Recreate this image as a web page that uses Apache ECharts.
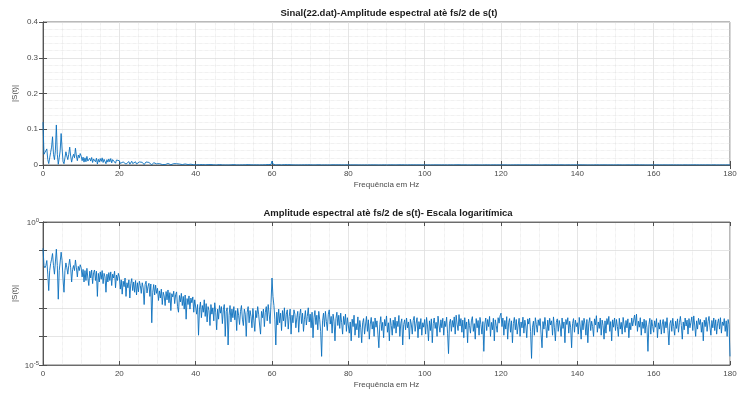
<!DOCTYPE html>
<html>
<head>
<meta charset="utf-8">
<script src="https://cdn.jsdelivr.net/npm/echarts@6/dist/echarts.min.js"></script>
<style>
  html, body { margin: 0; padding: 0; background: #fff; }
  #chart { width: 737px; height: 396px; }
</style>
</head>
<body>
<div id="chart"></div>
<script>
// Spektrum, gelesen aus dem Bild (Schritt 0.25 Hz)
const freqStep = 0.25;
const xTicks = [0, 20, 40, 60, 80, 100, 120, 140, 160, 180];
const linTicks = [0, 0.1, 0.2, 0.3, 0.4];
const logTicks = [1e-5, 1];

const amp0to20 = [
  0.12, 0.03, 0.025, 0.03, 0.045, 0.015, 0.004, 0.02, 0.035, 0.05,
  0.079, 0.03, 0.015, 0.04, 0.112, 0.03, 0.002, 0.02, 0.04, 0.088,
  0.045, 0.01, 0.0035, 0.02, 0.037, 0.025, 0.015, 0.03, 0.05, 0.025,
  0.008, 0.022, 0.03, 0.02, 0.047, 0.025, 0.012, 0.028, 0.02, 0.032,
  0.025, 0.012, 0.022, 0.008, 0.02, 0.009, 0.024, 0.011, 0.006, 0.019,
  0.011, 0.021, 0.007, 0.017, 0.021, 0.009, 0.019, 0.0025, 0.016, 0.008,
  0.018, 0.01, 0.02, 0.007, 0.016, 0.012, 0.0035, 0.015, 0.008, 0.017,
  0.009, 0.018, 0.006, 0.015, 0.011, 0.019, 0.005, 0.014, 0.009, 0.016
];
const amp20to40 = [
  0.012, 0.0045, 0.0095, 0.003, 0.0085, 0.0055, 0.011, 0.0025, 0.0075, 0.005,
  0.0095, 0.0022, 0.007, 0.0105, 0.004, 0.008, 0.0035, 0.009, 0.0028, 0.0075,
  0.0036, 0.0085, 0.006, 0.0032, 0.0075, 0.005, 0.0013, 0.0065, 0.0085, 0.0033,
  0.0055, 0.0072, 0.0025, 0.0068, 0.0003, 0.0035, 0.0065, 0.0028, 0.0062, 0.0032,
  0.0048, 0.0018, 0.0039, 0.0022, 0.0045, 0.0013, 0.0035, 0.0026, 0.0012, 0.0037,
  0.0019, 0.0042, 0.0015, 0.0034, 0.0008, 0.0031, 0.0024, 0.0038, 0.0014, 0.0029,
  0.0036, 0.0011, 0.0007, 0.0027, 0.0016, 0.0032, 0.0012, 0.0025, 0.0009, 0.0028,
  0.0004, 0.0021, 0.0013, 0.0026, 0.0009, 0.0022, 0.0015, 0.0024, 0.0007, 0.0019
];
const amp40to60 = [
  1.8e-3, 6e-4, 1.3e-3, 1.1e-4, 9e-4, 1.6e-3, 4.5e-4, 1.2e-3, 7e-4, 1.9e-3,
  5e-4, 1.4e-3, 3.2e-4, 1.1e-3, 8e-4, 2.4e-4, 1.3e-3, 6e-4, 1e-3, 3.5e-4,
  1.5e-3, 7e-4, 1.7e-4, 9e-4, 4e-4, 1.2e-3, 6.5e-4, 1.1e-3, 2.8e-4, 8.5e-4,
  1.3e-3, 1e-4, 7.5e-4, 1e-3, 5e-5, 5.5e-4, 1.2e-3, 3.2e-4, 9e-4, 4.5e-4,
  1.1e-3, 3.8e-4, 8e-4, 1.6e-4, 9.5e-4, 5.5e-4, 2.6e-4, 7.5e-4, 1.2e-3, 4e-4,
  2.4e-4, 9e-4, 6e-4, 1e-4, 7e-4, 1.1e-3, 3e-4, 8e-4, 5e-4, 2e-4,
  9.5e-4, 3.5e-4, 1.5e-4, 8e-4, 4.5e-4, 1.1e-3, 6e-4, 2.5e-4, 1.2e-4, 7.5e-4,
  4.5e-4, 9e-4, 2.2e-4, 7e-4, 1.1e-3, 3.5e-4, 1.3e-3, 6e-4, 2.8e-4, 1.5e-3
];
const amp60to80 = [
  1.1e-2, 2.5e-3, 1.2e-3, 4e-4, 5e-5, 7e-4, 2.5e-4, 9e-4, 3e-4, 6.5e-4,
  1.6e-4, 8e-4, 3.5e-4, 1e-3, 2.2e-4, 6e-4, 8.5e-4, 1.8e-4, 5e-4, 9e-4,
  1.2e-4, 5.5e-4, 3e-4, 8.5e-4, 6e-4, 2e-4, 4.5e-4, 7.5e-4, 1.4e-4, 5.5e-4,
  9e-4, 2.8e-4, 6.5e-4, 1.5e-4, 4e-4, 8e-4, 2.5e-4, 5e-4, 1e-3, 3.2e-4,
  6e-4, 2e-4, 7e-4, 9e-5, 4.5e-4, 8e-4, 2.6e-4, 5.5e-4, 1.7e-4, 7.5e-4,
  3.8e-4, 1.5e-4, 2e-5, 3.5e-4, 6.5e-4, 2.2e-4, 7.5e-4, 3.3e-4, 1.6e-4, 6e-4,
  8.5e-4, 2.7e-4, 5e-4, 1.3e-4, 6e-4, 3.4e-4, 7e-5, 4.2e-4, 7e-4, 2.4e-4,
  5.5e-4, 1.9e-4, 6.5e-4, 3e-4, 1.2e-4, 5e-4, 2.6e-4, 6e-4, 1.5e-4, 4.5e-4
];
const amp80to100 = [
  4.5e-4, 1.3e-4, 3.2e-4, 7e-5, 4e-4, 2.2e-4, 5.5e-4, 1.1e-4, 2.8e-4, 1.7e-4,
  4.8e-4, 9e-5, 3.6e-4, 2e-4, 6e-5, 3e-4, 4.2e-4, 1.2e-4, 2.5e-4, 5e-4,
  1.5e-4, 3.8e-4, 8e-5, 2.7e-4, 4.6e-4, 1.8e-4, 3.3e-4, 1e-4, 4.4e-4, 2.1e-4,
  3.5e-4, 1.2e-4, 4e-5, 2.6e-4, 4.9e-4, 1.6e-4, 3.1e-4, 9e-5, 3.9e-4, 2.3e-4,
  5.2e-4, 1.4e-4, 3e-4, 7e-5, 4.3e-4, 2.4e-4, 1.1e-4, 3.7e-4, 1.9e-4, 4.7e-4,
  1.3e-4, 3.4e-4, 2.2e-4, 5.4e-4, 1e-4, 2.9e-4, 4.1e-4, 5e-5, 2.6e-4, 3.8e-4,
  1.7e-4, 4.4e-4, 2e-4, 3.2e-4, 8e-5, 4e-4, 2.7e-4, 1.2e-4, 3.6e-4, 5e-4,
  1.5e-4, 2.9e-4, 4.5e-4, 9e-5, 3.3e-4, 1.8e-4, 4.2e-4, 1.1e-4, 3e-4, 2.1e-4
];
const amp100to120 = [
  3.9e-4, 1.2e-4, 4.6e-4, 2.3e-4, 7e-5, 3.5e-4, 1.6e-4, 4.1e-4, 6e-5, 2.8e-4,
  4.4e-4, 1.9e-4, 3.1e-4, 1e-4, 5.1e-4, 2.5e-4, 1.4e-4, 3.8e-4, 2e-4, 4.3e-4,
  1.1e-4, 3.4e-4, 2.2e-4, 4.7e-4, 1.3e-4, 2.5e-5, 2.9e-4, 4e-4, 1.5e-4, 3.6e-4,
  2.1e-4, 4.8e-4, 1.2e-4, 5.5e-4, 2.7e-4, 1.6e-4, 5.8e-4, 2.3e-4, 4.2e-4, 1.4e-4,
  3.7e-4, 9e-5, 4.5e-4, 1.8e-4, 3.2e-4, 6e-5, 4e-4, 2.4e-4, 1.3e-4, 3.5e-4,
  4.9e-4, 1.5e-4, 2.8e-4, 8e-5, 4.2e-4, 2e-4, 3.6e-4, 1.1e-4, 4.6e-4, 2.6e-4,
  1.2e-4, 3.3e-4, 3e-5, 2.7e-4, 4.4e-4, 1.6e-4, 3.9e-4, 2.2e-4, 5e-4, 1e-4,
  3.1e-4, 1.7e-4, 4.3e-4, 7e-5, 3.8e-4, 2.4e-4, 1.4e-4, 4.5e-4, 2.9e-4, 5.2e-4
];
const amp120to140 = [
  6.5e-4, 2.2e-4, 4.4e-4, 1.1e-4, 3.6e-4, 1.8e-4, 4.9e-4, 8e-5, 3e-4, 4.2e-4,
  1.4e-4, 3.5e-4, 6e-5, 2.8e-4, 4.6e-4, 1.7e-4, 3.9e-4, 1.2e-4, 2.5e-4, 4.3e-4,
  1e-4, 3.2e-4, 2e-4, 4.7e-4, 1.3e-4, 3.7e-4, 2.3e-4, 9e-5, 4.1e-4, 2.7e-4,
  4.4e-4, 1.5e-4, 1.7e-5, 2.1e-4, 3.4e-4, 1.1e-4, 4.5e-4, 2.6e-4, 1.4e-4, 3.8e-4,
  2.4e-4, 4.2e-4, 1.2e-4, 4e-5, 3.3e-4, 1.8e-4, 4.6e-4, 2.2e-4, 9e-5, 3.7e-4,
  1.6e-4, 4.3e-4, 2.5e-4, 3.5e-4, 1.1e-4, 4.8e-4, 2e-4, 7e-5, 3.1e-4, 4.1e-4,
  1.5e-4, 3.6e-4, 2.3e-4, 1e-4, 4.4e-4, 1.9e-4, 3.2e-4, 6e-5, 3.9e-4, 2.6e-4,
  4.5e-4, 1.3e-4, 3.4e-4, 2.1e-4, 4e-5, 2.8e-4, 4.2e-4, 1.4e-4, 3.7e-4, 2.2e-4
];
const amp140to160 = [
  3e-4, 1.2e-4, 4.6e-4, 2.3e-4, 8e-5, 3.6e-4, 1.7e-4, 4.3e-4, 2.7e-4, 1.1e-4,
  3.9e-4, 6e-5, 2.9e-4, 4.5e-4, 1.6e-4, 3.4e-4, 2.2e-4, 1e-4, 4.1e-4, 2.5e-4,
  5.3e-4, 1.4e-4, 3.2e-4, 1.9e-4, 4.4e-4, 1.1e-4, 3.7e-4, 2.4e-4, 8e-5, 3.5e-4,
  1.3e-4, 4.2e-4, 2.6e-4, 5e-4, 1.5e-4, 3.3e-4, 7e-5, 3.8e-4, 2.1e-4, 4.4e-4,
  1.6e-4, 3.9e-4, 2.2e-4, 1e-4, 4.3e-4, 1.8e-4, 3.1e-4, 1.2e-4, 4.6e-4, 2.5e-4,
  1.4e-4, 3.6e-4, 2e-4, 4.1e-4, 9e-5, 3e-4, 1.7e-4, 4.4e-4, 2.3e-4, 3.7e-4,
  5.6e-4, 2.4e-4, 6e-4, 1.5e-4, 3.4e-4, 2.1e-4, 4.5e-4, 1.1e-4, 3.2e-4, 1.9e-4,
  4e-4, 1.3e-4, 3.6e-4, 2e-4, 3e-5, 2.6e-4, 4.3e-4, 1.2e-4, 3.8e-4, 2.2e-4
];
const amp160to180 = [
  1.4e-4, 3.5e-4, 2.1e-4, 4.2e-4, 9e-5, 3e-4, 1.8e-4, 3.8e-4, 1.2e-4, 2.7e-4,
  3.9e-4, 1.3e-4, 3.3e-4, 2e-4, 4.5e-4, 1.6e-4, 5e-5, 2.8e-4, 3.6e-4, 1.5e-4,
  4.3e-4, 2.2e-4, 1.1e-4, 3.4e-4, 1.9e-4, 4.1e-4, 1.4e-4, 3e-4, 5e-4, 2.4e-4,
  8e-5, 3.2e-4, 1.7e-4, 4.4e-4, 2.3e-4, 3.7e-4, 1.2e-4, 4.2e-4, 2e-4, 3.1e-4,
  4.8e-4, 1.6e-4, 5.2e-4, 2.5e-4, 1e-4, 3.5e-4, 1.8e-4, 4.3e-4, 2.6e-4, 3.9e-4,
  1.4e-4, 3.1e-4, 7e-5, 3.7e-4, 2.2e-4, 4.6e-4, 1.5e-4, 3.3e-4, 5e-4, 2.1e-4,
  1.1e-4, 3.6e-4, 2e-4, 4.4e-4, 1.6e-4, 3.8e-4, 1.2e-4, 2.9e-4, 4.1e-4, 1.8e-4,
  4.5e-4, 1.3e-4, 3.2e-4, 2.4e-4, 4.2e-4, 1.5e-4, 3.5e-4, 1e-4, 3.9e-4, 2.6e-4,
  2e-5
];

const amplitude = [].concat(amp0to20, amp20to40, amp40to60, amp60to80, amp80to100,
  amp100to120, amp120to140, amp140to160, amp160to180);
const points = amplitude.map((a, i) => [i * freqStep, a]);

const font = 'Liberation Sans';
const axisColor = '#505050';
const textColor = '#4a4a4a';
const lineColor = '#0a6fbd';

function xAxisDef(gridIndex, main) {
  return {
    type: 'value', gridIndex, position: main ? 'bottom' : 'top',
    min: xTicks[0], max: xTicks[xTicks.length - 1], interval: 20,
    name: main ? 'Frequência em Hz' : '', nameLocation: 'middle', nameGap: 16,
    nameTextStyle: { fontFamily: font, fontSize: 8, color: textColor },
    axisLine: { show: true, lineStyle: { color: axisColor, width: 0.8 } },
    axisTick: { show: true, inside: true, length: 4, lineStyle: { color: axisColor } },
    axisLabel: { show: main, margin: 5, fontFamily: font, fontSize: 8, color: textColor },
    splitLine: { show: main, lineStyle: { color: '#dedede', width: 0.8 } },
    minorTick: { show: false, splitNumber: 4 },
    minorSplitLine: { show: main, lineStyle: { color: '#d6d6d6', width: 0.6, type: 'dotted' } }
  };
}

function rightAxis(gridIndex, extra) {
  return Object.assign({
    gridIndex, position: 'right',
    axisLine: { show: true, lineStyle: { color: axisColor, width: 0.8 } },
    axisTick: { show: true, inside: true, length: 4, lineStyle: { color: axisColor } },
    axisLabel: { show: false }, splitLine: { show: false }
  }, extra);
}

const option = {
  animation: false,
  backgroundColor: '#fff',
  title: [
    {
      text: 'Sinal(22.dat)-Amplitude espectral atè fs/2 de s(t)',
      left: 389, top: 8, textAlign: 'center', padding: 0,
      textStyle: { fontFamily: font, fontSize: 9.5, fontWeight: 'bold', color: '#1a1a1a' }
    },
    {
      text: 'Amplitude espectral atè fs/2 de s(t)- Escala logaritímica',
      left: 388, top: 208, textAlign: 'center', padding: 0,
      textStyle: { fontFamily: font, fontSize: 9.5, fontWeight: 'bold', color: '#1a1a1a' }
    }
  ],
  grid: [
    { left: 43, right: 7, top: 22, height: 143, show: true, borderColor: axisColor, borderWidth: 0.8, outerBoundsMode: 'none' },
    { left: 43, right: 7, top: 222, height: 143, show: true, borderColor: axisColor, borderWidth: 0.8, outerBoundsMode: 'none' }
  ],
  xAxis: [xAxisDef(0, true), xAxisDef(0, false), xAxisDef(1, true), xAxisDef(1, false)],
  yAxis: [
    {
      type: 'value', gridIndex: 0, min: linTicks[0], max: linTicks[linTicks.length - 1], interval: 0.1,
      name: '|S(t)|', nameLocation: 'middle', nameGap: 24, nameMoveOverlap: false,
      nameTextStyle: { fontFamily: font, fontSize: 8, color: textColor },
      axisLine: { show: true, lineStyle: { color: axisColor, width: 0.8 } },
      axisTick: { show: true, inside: true, length: 4, lineStyle: { color: axisColor } },
      axisLabel: { margin: 5, fontFamily: font, fontSize: 8, color: textColor },
      splitLine: { show: true, lineStyle: { color: '#dedede', width: 0.8 } },
      minorTick: { show: false, splitNumber: 5 },
      minorSplitLine: { show: true, lineStyle: { color: '#d6d6d6', width: 0.6, type: 'dotted' } }
    },
    rightAxis(0, { type: 'value', min: 0, max: 0.4, interval: 0.1 }),
    {
      type: 'log', logBase: 10, gridIndex: 1, min: logTicks[0], max: logTicks[1], splitNumber: 5,
      name: '|S(t)|', nameLocation: 'middle', nameGap: 24, nameMoveOverlap: false,
      nameTextStyle: { fontFamily: font, fontSize: 8, color: textColor },
      axisLine: { show: true, lineStyle: { color: axisColor, width: 0.8 } },
      axisTick: { show: true, inside: true, length: 4, lineStyle: { color: axisColor } },
      axisLabel: {
        margin: 4, fontFamily: font, color: textColor,
        formatter: v => {
          if (Math.abs(v - 1) < 1e-9) return '{b|10}{e|0}';
          if (Math.abs(v - 1e-5) < 1e-12) return '{b|10}{e|-5}';
          return '';
        },
        rich: {
          b: { fontFamily: font, fontSize: 8, color: textColor, lineHeight: 10, verticalAlign: 'bottom' },
          e: { fontFamily: font, fontSize: 6, color: textColor, lineHeight: 10, verticalAlign: 'top' }
        }
      },
      splitLine: { show: true, lineStyle: { color: '#dedede', width: 0.8 } }
    },
    rightAxis(1, { type: 'log', logBase: 10, min: 1e-5, max: 1, splitNumber: 5 })
  ],
  series: [
    {
      type: 'line', xAxisIndex: 0, yAxisIndex: 0, data: points,
      showSymbol: false, clip: true,
      lineStyle: { color: lineColor, width: 0.9 }
    },
    {
      type: 'line', xAxisIndex: 2, yAxisIndex: 2, data: points,
      showSymbol: false, clip: true,
      lineStyle: { color: lineColor, width: 0.9 }
    }
  ]
};

const myChart = echarts.init(document.getElementById('chart'));
myChart.setOption(option);
</script>
</body>
</html>
